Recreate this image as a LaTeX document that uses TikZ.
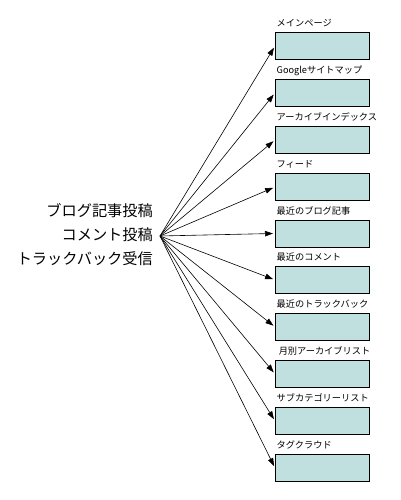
\documentclass[tikz,border=0pt]{standalone}
\usepackage{fontspec}
\setmainfont{Noto Sans CJK JP}
\usetikzlibrary{arrows.meta}
\definecolor{boxfill}{RGB}{192,224,224}
\begin{document}
\begin{tikzpicture}[x=1pt,y=-1pt,
  pagebox/.style={draw=black,line width=0.9pt,fill=boxfill,minimum width=94pt,minimum height=27pt,inner sep=0pt,anchor=north west},
  boxlabel/.style={anchor=base west,inner sep=0pt,font=\fontsize{9.2pt}{10pt}\selectfont},
  srctext/.style={anchor=base east,inner sep=0pt,font=\fontsize{15.2pt}{16pt}\selectfont},
  link/.style={line width=0.6pt,-{Triangle[length=8pt,width=5.5pt]},shorten >=2pt}]
\useasboundingbox (0,0) rectangle (400,500);
\coordinate (o) at (160,236);
\node[srctext] (s1) at (153,216) {ブログ記事投稿};
\node[srctext] (s2) at (153,240) {コメント投稿};
\node[srctext] (s3) at (153,264) {トラックバック受信};
\foreach \i/\t/\lab in {1/32/メインページ,2/79/Googleサイトマップ,3/126/アーカイブインデックス,4/173/フィード,5/219.5/最近のブログ記事,6/266/最近のコメント,7/313/最近のトラックバック,8/360/\ 月別アーカイブリスト,9/407/サブカテゴリーリスト,10/454/タグクラウド}{
  \node[pagebox] (b\i) at (275,\t) {};
  \node[boxlabel] (l\i) at (276.5,\t-5.5) {\lab};
  \draw[link] (o) -- (b\i.west);
}
\end{tikzpicture}
\end{document}
